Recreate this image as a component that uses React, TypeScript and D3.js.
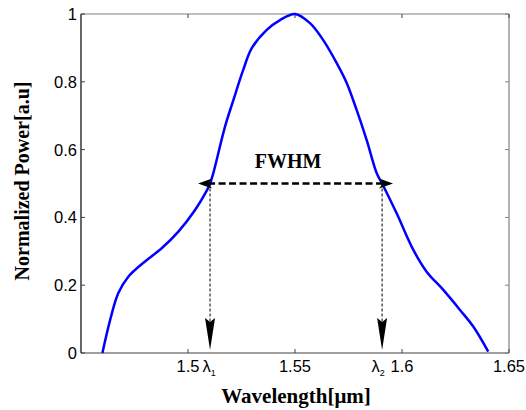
import React from "react";
import * as d3 from "d3";

const wavelength = [1.46, 1.4636, 1.4674, 1.4721, 1.4799, 1.4877, 1.4955, 1.5033, 1.5087, 1.5103, 1.5118, 1.5173, 1.5212, 1.5258, 1.5298, 1.5368, 1.543, 1.55, 1.557, 1.5632, 1.5695, 1.5742, 1.5788, 1.5835, 1.5882, 1.5907, 1.5975, 1.6053, 1.6115, 1.6193, 1.6271, 1.6333, 1.6403];
const power = [0, 0.097, 0.176, 0.225, 0.27, 0.309, 0.358, 0.422, 0.478, 0.5, 0.53, 0.668, 0.746, 0.835, 0.899, 0.953, 0.982, 1.0, 0.973, 0.923, 0.855, 0.796, 0.717, 0.628, 0.53, 0.5, 0.412, 0.304, 0.24, 0.186, 0.127, 0.078, 0.004];
const xTicks = [1.5, 1.55, 1.6, 1.65];
const xTickLabels = ["1.5", "1.55", "1.6", "1.65"];
const yTicks = [0, 0.2, 0.4, 0.6, 0.8, 1];
const yTickLabels = ["0", "0.2", "0.4", "0.6", "0.8", "1"];
const lambdaPos = [1.5103, 1.5907];
const fwhmArrow = [1.5047, 1.5958];
const fwhmLevel = 0.5;

export default function App() {
  const W = 526, H = 410;
  const L = 81, R = 509, T = 14, B = 353;
  const x = d3.scaleLinear().domain([1.45, 1.65]).range([L, R]);
  const y = d3.scaleLinear().domain([0, 1]).range([B, T]);
  const pts = wavelength.map((w, i) => [w, power[i]] as [number, number]);
  const line = d3.line<[number, number]>().x(d => x(d[0])).y(d => y(d[1])).curve(d3.curveCatmullRom.alpha(0.5));
  const tickFont = "'Liberation Sans', Arial, sans-serif";
  const serif = "'Liberation Serif', 'Times New Roman', serif";
  const fy = y(fwhmLevel);
  const ax1 = x(fwhmArrow[0]), ax2 = x(fwhmArrow[1]);
  const headH = (tx: number, ty: number, dir: number) => {
    const l = 14, w = 5, n = 4;
    return `M${tx},${ty} L${tx + dir * l},${ty - w} L${tx + dir * (l - n)},${ty} L${tx + dir * l},${ty + w} Z`;
  };
  const headV = (tx: number, ty: number) => {
    const l = 32, w = 5, n = 4;
    return `M${tx},${ty} L${tx - w},${ty - l} L${tx},${ty - l + n} L${tx + w},${ty - l} Z`;
  };
  const fs = 16.5;
  return (
    <svg width={W} height={H} style={{ position: "absolute", left: 0, top: 0, background: "#fff" }}>
      <rect x={0} y={0} width={W} height={H} fill="#fff" />
      <line x1={L} y1={T} x2={R} y2={T} stroke="#808080" strokeWidth={1.2} />
      <line x1={R} y1={T} x2={R} y2={B} stroke="#808080" strokeWidth={1.2} />
      <line x1={L} y1={B} x2={R} y2={B} stroke="#808080" strokeWidth={1.5} />
      <line x1={L} y1={T} x2={L} y2={B} stroke="#000" strokeWidth={1.2} />
      {xTicks.map((t, i) => (
        <g key={"xt" + i}>
          <line x1={x(t)} x2={x(t)} y1={B} y2={B - 4} stroke="#404040" />
          <line x1={x(t)} x2={x(t)} y1={T} y2={T + 4} stroke="#404040" />
          <text x={x(t)} y={372} textAnchor="middle" fontFamily={tickFont} fontSize={fs} fill="#000">{xTickLabels[i]}</text>
        </g>
      ))}
      {yTicks.map((t, i) => (
        <g key={"yt" + i}>
          <line x1={L} x2={L + 4} y1={y(t)} y2={y(t)} stroke="#404040" />
          <line x1={R} x2={R - 4} y1={y(t)} y2={y(t)} stroke="#808080" />
          <text x={77} y={y(t) + 6} textAnchor="end" fontFamily={tickFont} fontSize={fs} fill="#000">{yTickLabels[i]}</text>
        </g>
      ))}
      <path d={line(pts) || ""} fill="none" stroke="#0000ff" strokeWidth={2.5} />
      <line x1={ax1 + 10} x2={ax2 - 10} y1={fy} y2={fy} stroke="#000" strokeWidth={2.5} strokeDasharray="7,3.5" />
      <path d={headH(ax1, fy, 1)} fill="#000" />
      <path d={headH(ax2, fy, -1)} fill="#000" />
      <text x={288} y={168} textAnchor="middle" fontFamily={serif} fontWeight="bold" fontSize={20} fill="#000">FWHM</text>
      {lambdaPos.map((w, i) => (
        <g key={"lv" + i}>
          <line x1={x(w)} x2={x(w)} y1={fy} y2={B - 20} stroke="#000" strokeWidth={1} strokeDasharray="3,2" />
          <path d={headV(x(w), B - 3)} fill="#000" />
        </g>
      ))}
      <text x={x(lambdaPos[0]) - 1} y={372} textAnchor="middle" fontFamily={tickFont} fontSize={fs} fill="#000">λ<tspan fontSize={9} dy={4}>1</tspan></text>
      <text x={x(lambdaPos[1]) - 4} y={372} textAnchor="middle" fontFamily={tickFont} fontSize={fs} fill="#000">λ<tspan fontSize={9} dy={4}>2</tspan></text>
      <text x={296} y={403} textAnchor="middle" fontFamily={serif} fontWeight="bold" fontSize={21} fill="#000">Wavelength[μm]</text>
      <text transform={`translate(29,${181}) rotate(-90)`} textAnchor="middle" fontFamily={serif} fontWeight="bold" fontSize={20} fill="#000">Normalized Power[a.u]</text>
    </svg>
  );
}
